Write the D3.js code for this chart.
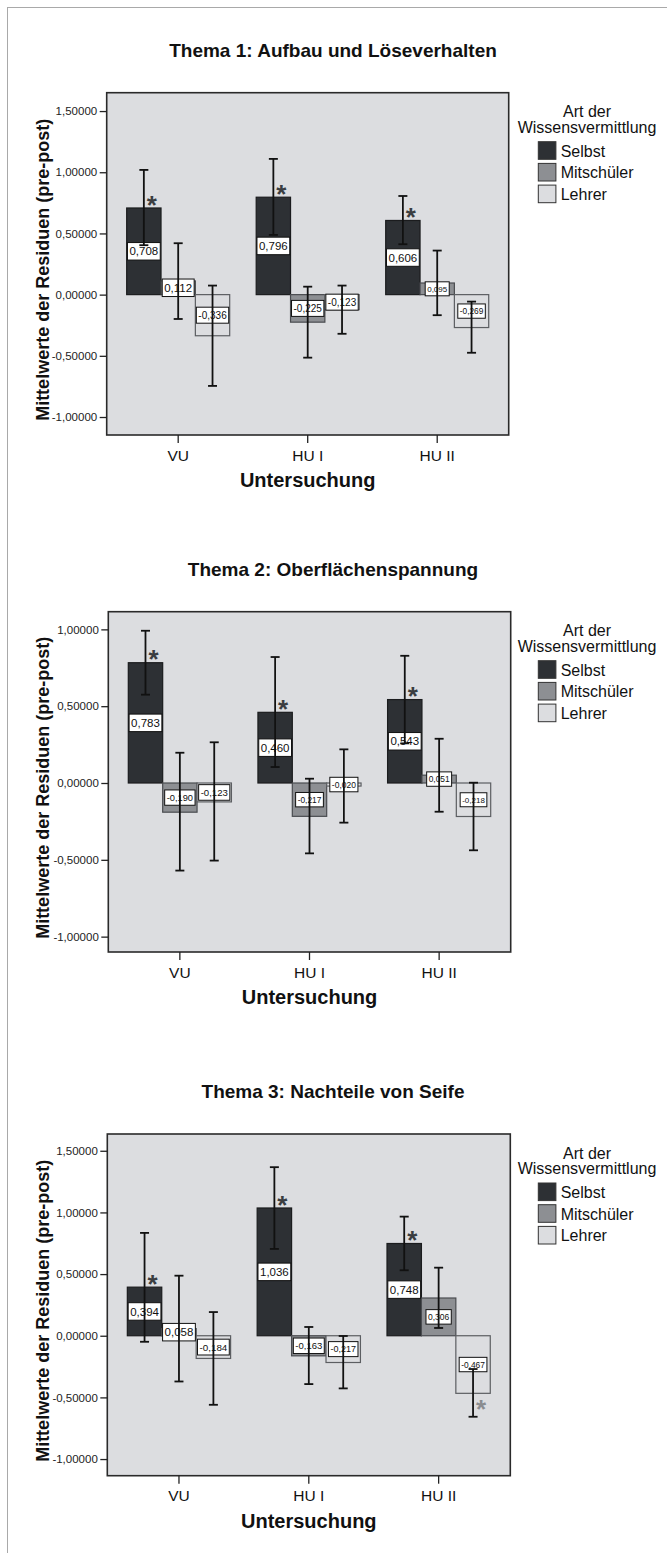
<!DOCTYPE html>
<html>
<head>
<meta charset="utf-8">
<script src="https://cdn.jsdelivr.net/npm/d3@7"></script>
<style>
  body { margin: 0; background: #fff; }
  svg { display: block; }
  text { font-family: "Liberation Sans", Arial, sans-serif; }
</style>
</head>
<body>
<svg id="fig" width="667" height="1553"></svg>
<script>
// ---- data ----
const categories = ["VU", "HU I", "HU II"];
const seriesNames = ["Selbst", "Mitschüler", "Lehrer"];
const chartTitles = [
  "Thema 1: Aufbau und Löseverhalten",
  "Thema 2: Oberflächenspannung",
  "Thema 3: Nachteile von Seife"
];
const yAxisTitle = "Mittelwerte der Residuen (pre-post)";
const xAxisTitle = "Untersuchung";
const legendTitle = ["Art der", "Wissensvermittlung"];
const yTicksThema1 = [-1, -0.5, 0, 0.5, 1, 1.5];
const yTicksThema2 = [-1, -0.5, 0, 0.5, 1];
const yTicksThema3 = [-1, -0.5, 0, 0.5, 1, 1.5];

// rows: Selbst, Mitschüler, Lehrer; columns: VU, HU I, HU II
const thema1Means = [[0.708, 0.796, 0.606], [0.112, -0.225, 0.095], [-0.336, -0.123, -0.269]];
const thema1Lower = [[0.404, 0.488, 0.412], [-0.199, -0.515, -0.168], [-0.746, -0.320, -0.475]];
const thema1Upper = [[1.019, 1.109, 0.806], [0.420, 0.065, 0.360], [0.074, 0.074, -0.057]];
const thema1Sig   = [[1, 1, 1], [0, 0, 0], [0, 0, 0]];

const thema2Means = [[0.783, 0.460, 0.543], [-0.190, -0.217, 0.051], [-0.123, -0.020, -0.218]];
const thema2Lower = [[0.575, 0.104, 0.258], [-0.570, -0.458, -0.187], [-0.505, -0.258, -0.438]];
const thema2Upper = [[0.991, 0.820, 0.828], [0.197, 0.028, 0.288], [0.265, 0.219, 0.002]];
const thema2Sig   = [[1, 1, 1], [0, 0, 0], [0, 0, 0]];

const thema3Means = [[0.394, 1.036, 0.748], [0.058, -0.163, 0.306], [-0.184, -0.217, -0.467]];
const thema3Lower = [[-0.049, 0.704, 0.531], [-0.371, -0.392, 0.063], [-0.560, -0.427, -0.657]];
const thema3Upper = [[0.834, 1.367, 0.966], [0.487, 0.071, 0.552], [0.192, -0.002, -0.270]];
const thema3Sig   = [[1, 1, 1], [0, 0, 0], [0, 0, -1]];

// ---- styling / layout ----
const fills   = { "Selbst": "#2d3034", "Mitschüler": "#8d8f93", "Lehrer": "#dcdde0" };
const strokes = { "Selbst": "#1b1c1e", "Mitschüler": "#4a4c50", "Lehrer": "#5c5e62" };
const plotBg = "#dcdde0";

const panels = [
  { title: chartTitles[0], means: thema1Means, lower: thema1Lower, upper: thema1Upper, sig: thema1Sig,
    ticks: yTicksThema1, left: 106.7, right: 508.7, top: 92.7, bottom: 435, yMin: -1.147, yMax: 1.650,
    labelSizes: [[11.5, 11.5, 11.5], [11.5, 10, 8], [10, 10, 8.3]] },
  { title: chartTitles[1], means: thema2Means, lower: thema2Lower, upper: thema2Upper, sig: thema2Sig,
    ticks: yTicksThema2, left: 108.3, right: 510.7, top: 611.7, bottom: 952, yMin: -1.10, yMax: 1.115,
    labelSizes: [[11.5, 11.5, 11.5], [9.3, 8.4, 8.4], [9.6, 8.5, 8]] },
  { title: chartTitles[2], means: thema3Means, lower: thema3Lower, upper: thema3Upper, sig: thema3Sig,
    ticks: yTicksThema3, left: 107.3, right: 510.3, top: 1134, bottom: 1475.7, yMin: -1.135, yMax: 1.636,
    labelSizes: [[11.5, 11.5, 11.5], [11.5, 9.5, 8.5], [9.8, 9, 8.4]] }
];

const locale = d3.formatLocale({ decimal: ",", thousands: ".", grouping: [3], currency: ["", "€"], minus: "-" });
const fmtTick = locale.format(".5f");
const fmtVal = locale.format(".3f");

const svg = d3.select("#fig");

// outer frame
svg.append("rect")
  .attr("x", 7.5).attr("y", 7.5).attr("width", 700).attr("height", 1600)
  .attr("fill", "none").attr("stroke", "#a9a9a9").attr("stroke-width", 1);

panels.forEach(p => {
  const g = svg.append("g");
  const x0 = d3.scaleBand().domain(categories).range([p.left, p.right])
    .paddingInner(0.2046).paddingOuter(0.1543);
  const x1 = d3.scaleBand().domain(seriesNames).range([0, x0.bandwidth()]);
  const y = d3.scaleLinear().domain([p.yMin, p.yMax]).range([p.bottom, p.top]);

  // title
  g.append("text")
    .attr("x", 333).attr("y", p.top - 35.7)
    .attr("text-anchor", "middle")
    .attr("font-size", 19).attr("font-weight", "bold").attr("fill", "#111")
    .text(p.title);

  // plot background
  g.append("rect")
    .attr("x", p.left).attr("y", p.top)
    .attr("width", p.right - p.left).attr("height", p.bottom - p.top)
    .attr("fill", plotBg);

  const rows = [];
  seriesNames.forEach((s, si) => {
    categories.forEach((c, ci) => {
      rows.push({
        series: s, cat: c, value: p.means[si][ci],
        lo: p.lower[si][ci], hi: p.upper[si][ci], sig: p.sig[si][ci],
        fs: p.labelSizes[si][ci]
      });
    });
  });
  const cx = d => x0(d.cat) + x1(d.series) + x1.bandwidth() / 2;

  // bars
  g.selectAll("rect.bar").data(rows).join("rect")
    .attr("class", "bar")
    .attr("x", d => x0(d.cat) + x1(d.series))
    .attr("y", d => y(Math.max(0, d.value)))
    .attr("width", x1.bandwidth())
    .attr("height", d => Math.abs(y(d.value) - y(0)))
    .attr("fill", d => fills[d.series])
    .attr("stroke", d => strokes[d.series])
    .attr("stroke-width", 1.2);

  // value labels in white boxes
  const lab = g.selectAll("g.lab").data(rows).join("g")
    .attr("class", "lab")
    .attr("transform", d => `translate(${cx(d)},${y(d.value / 2)})`);
  lab.each(function(d) {
    const sel = d3.select(this);
    const box = sel.append("rect");
    const t = sel.append("text")
      .attr("text-anchor", "middle")
      .attr("y", d.fs * 0.36)
      .attr("font-size", d.fs).attr("fill", "#111")
      .text(fmtVal(d.value));
    const w = t.node().getComputedTextLength() + 4;
    const h = d.fs + 6;
    box.attr("x", -w / 2).attr("y", -h / 2).attr("width", w).attr("height", h)
      .attr("fill", "#fff").attr("stroke", "#111").attr("stroke-width", 1);
  });

  // error bars
  const eb = g.selectAll("g.eb").data(rows).join("g").attr("class", "eb")
    .attr("stroke", "#111").attr("stroke-width", 1.8);
  eb.append("line")
    .attr("x1", cx).attr("x2", cx)
    .attr("y1", d => y(d.lo)).attr("y2", d => y(d.hi));
  eb.append("line")
    .attr("x1", d => cx(d) - 4.5).attr("x2", d => cx(d) + 4.5)
    .attr("y1", d => y(d.hi)).attr("y2", d => y(d.hi));
  eb.append("line")
    .attr("x1", d => cx(d) - 4.5).attr("x2", d => cx(d) + 4.5)
    .attr("y1", d => y(d.lo)).attr("y2", d => y(d.lo));

  // significance asterisks
  const astFs = 26;
  g.selectAll("text.sig").data(rows.filter(d => d.sig !== 0)).join("text")
    .attr("class", "sig")
    .attr("x", d => cx(d) + 8)
    .attr("y", d => (d.sig > 0
      ? y(Math.max(0, d.value)) - 9
      : y(Math.min(0, d.value)) + 10) + astFs * 0.56)
    .attr("text-anchor", "middle")
    .attr("font-size", astFs).attr("font-weight", "bold")
    .attr("fill", d => d.sig > 0 ? "#3a3d41" : "#8a8c90")
    .text("*");

  // plot border
  g.append("rect")
    .attr("x", p.left).attr("y", p.top)
    .attr("width", p.right - p.left).attr("height", p.bottom - p.top)
    .attr("fill", "none").attr("stroke", "#2a2a2a").attr("stroke-width", 1.6);

  // y axis
  const ya = g.append("g").attr("transform", `translate(${p.left},0)`)
    .call(d3.axisLeft(y).tickValues(p.ticks).tickSize(7).tickPadding(2.5).tickFormat(fmtTick));
  ya.select(".domain").remove();
  ya.selectAll("line").attr("stroke", "#222").attr("stroke-width", 1.3);
  ya.selectAll("text").attr("font-size", 11.5).attr("fill", "#222")
    .attr("font-family", "Liberation Sans, Arial, sans-serif");

  // x axis
  const xa = g.append("g").attr("transform", `translate(0,${p.bottom})`)
    .call(d3.axisBottom(x0).tickSize(8).tickPadding(6.7));
  xa.select(".domain").remove();
  xa.selectAll("line").attr("stroke", "#222").attr("stroke-width", 1.3);
  xa.selectAll("text").attr("font-size", 15.5).attr("fill", "#111")
    .attr("font-family", "Liberation Sans, Arial, sans-serif");

  // axis titles
  g.append("text")
    .attr("x", (p.left + p.right) / 2).attr("y", p.bottom + 52.3)
    .attr("text-anchor", "middle")
    .attr("font-size", 20).attr("font-weight", "bold").attr("fill", "#111")
    .text(xAxisTitle);
  const yMid = (p.top + p.bottom) / 2 + 6;
  g.append("text")
    .attr("transform", `translate(49,${yMid}) rotate(-90)`)
    .attr("text-anchor", "middle")
    .attr("font-size", 18).attr("font-weight", "bold").attr("fill", "#111")
    .text(yAxisTitle);

  // legend
  const lg = g.append("g");
  lg.selectAll("text.lt").data(legendTitle).join("text")
    .attr("class", "lt")
    .attr("x", 587).attr("y", (d, i) => p.top + 24.5 + i * 15.7)
    .attr("text-anchor", "middle")
    .attr("font-size", 16).attr("fill", "#111")
    .text(d => d);
  const item = lg.selectAll("g.item").data(seriesNames).join("g")
    .attr("class", "item")
    .attr("transform", (d, i) => `translate(538.3,${p.top + 49 + i * 21.7})`);
  item.append("rect")
    .attr("width", 17.6).attr("height", 17.6)
    .attr("fill", d => fills[d]).attr("stroke", "#333").attr("stroke-width", 1);
  item.append("text")
    .attr("x", 22.4).attr("y", 8.8 + 6.2)
    .attr("font-size", 16).attr("fill", "#111")
    .text(d => d);
});
</script>
</body>
</html>
